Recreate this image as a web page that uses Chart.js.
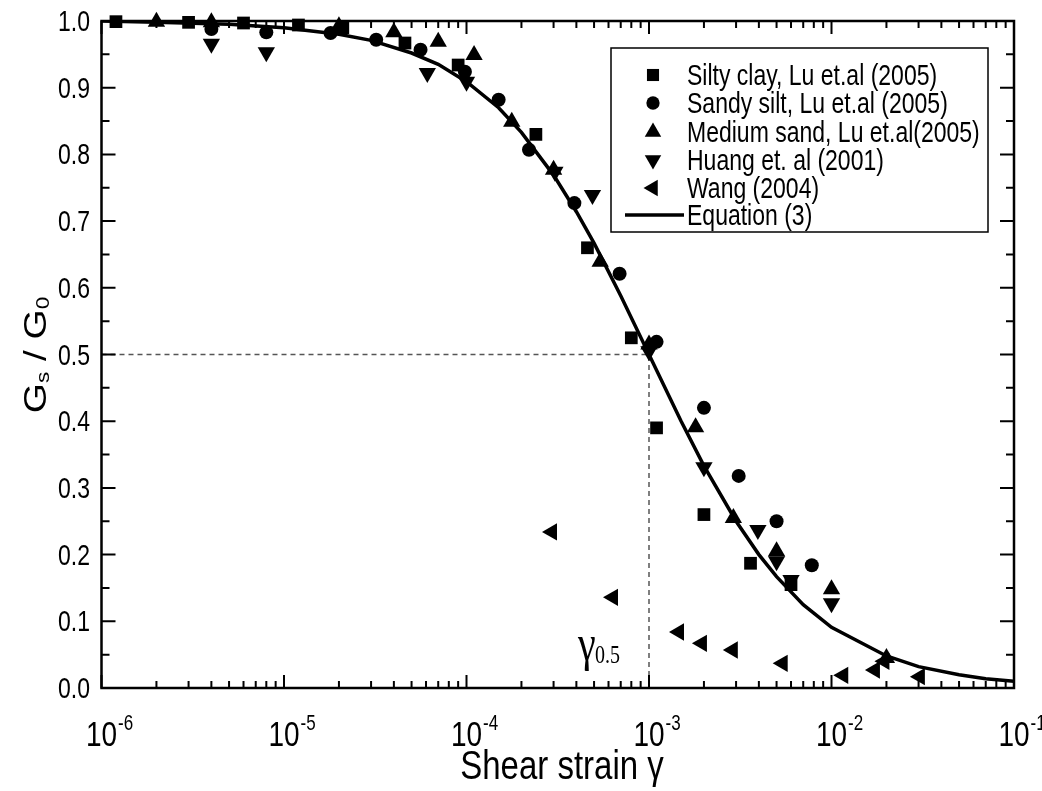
<!DOCTYPE html>
<html>
<head>
<meta charset="utf-8">
<script src="https://cdn.jsdelivr.net/npm/chart.js@4.4.1/dist/chart.umd.min.js"></script>
<style>
  body { margin: 0; background: #fff; }
  canvas { display: block; }
</style>
</head>
<body>
<canvas id="modulusChart" width="1042" height="791"></canvas>
<script>
// measured modulus ratio Gs/G0 against shear strain
const siltyClayStrain = [1.2e-6, 3e-6, 6e-6, 1.2e-5, 2.1e-5, 4.6e-5, 9e-5, 2.4e-4, 4.6e-4, 8e-4, 1.1e-3, 2e-3, 3.6e-3, 6e-3];
const siltyClayRatio  = [0.999, 0.998, 0.997, 0.994, 0.990, 0.967, 0.934, 0.830, 0.660, 0.525, 0.390, 0.260, 0.187, 0.155];

const sandySiltStrain = [4e-6, 8e-6, 1.8e-5, 3.2e-5, 5.6e-5, 9.8e-5, 1.5e-4, 2.2e-4, 3.9e-4, 6.9e-4, 1.1e-3, 2e-3, 3.1e-3, 5e-3, 7.8e-3];
const sandySiltRatio  = [0.988, 0.983, 0.982, 0.972, 0.957, 0.924, 0.882, 0.807, 0.727, 0.621, 0.519, 0.420, 0.318, 0.250, 0.184];

const mediumSandStrain = [2e-6, 4e-6, 2e-5, 4e-5, 7e-5, 1.1e-4, 1.77e-4, 3e-4, 5.4e-4, 1e-3, 1.8e-3, 2.9e-3, 5e-3, 1e-2, 2e-2];
const mediumSandRatio  = [0.999, 0.998, 0.992, 0.983, 0.969, 0.949, 0.849, 0.777, 0.639, 0.515, 0.391, 0.255, 0.205, 0.148, 0.045];

const huangStrain = [4e-6, 8e-6, 6.1e-5, 1e-4, 3.05e-4, 4.9e-4, 1e-3, 2e-3, 3.95e-3, 5e-3, 6e-3, 1e-2];
const huangRatio  = [0.966, 0.953, 0.922, 0.909, 0.774, 0.739, 0.505, 0.331, 0.237, 0.190, 0.162, 0.127];

const wangStrain = [2.94e-4, 6.35e-4, 1.46e-3, 1.95e-3, 2.88e-3, 5.4e-3, 1.16e-2, 1.73e-2, 1.95e-2, 3.05e-2];
const wangRatio  = [0.234, 0.136, 0.084, 0.067, 0.057, 0.037, 0.019, 0.027, 0.040, 0.017];

// Equation (3) curve
const eqStrain = [1e-6, 2e-6, 5e-6, 1e-5, 2e-5, 3e-5, 5e-5, 7e-5, 1e-4, 1.5e-4, 2e-4, 3e-4, 4e-4, 5e-4, 7e-4, 1e-3, 1.5e-3, 2e-3, 3e-3, 4e-3, 5e-3, 7e-3, 1e-2, 2e-2, 3e-2, 5e-2, 7e-2, 1e-1];
const eqRatio  = [1.000, 0.998, 0.995, 0.990, 0.980, 0.971, 0.952, 0.935, 0.909, 0.870, 0.833, 0.769, 0.714, 0.667, 0.588, 0.500, 0.400, 0.333, 0.250, 0.200, 0.167, 0.125, 0.091, 0.048, 0.032, 0.020, 0.014, 0.010];

// reference strain at half modulus
const gammaHalf = 1e-3;
const halfRatio = 0.5;

const xTickExponents = [-6, -5, -4, -3, -2, -1];
const yTickValues = [0, 0.1, 0.2, 0.3, 0.4, 0.5, 0.6, 0.7, 0.8, 0.9, 1.0];
const yTickLabels = ['0.0', '0.1', '0.2', '0.3', '0.4', '0.5', '0.6', '0.7', '0.8', '0.9', '1.0'];

const seriesNames = ['Silty clay, Lu et.al (2005)', 'Sandy silt, Lu et.al (2005)', 'Medium sand, Lu et.al(2005)',
                     'Huang et. al (2001)', 'Wang (2004)', 'Equation (3)'];

const SANS = "'Liberation Sans', Arial, sans-serif";
const SERIF = "'Liberation Serif', 'Times New Roman', serif";
const STRETCH = 1.25;

function pairs(xs, ys) {
  return xs.map((x, i) => ({ x: x, y: ys[i] }));
}

const markers = [
  { pointStyle: 'rect', radius: 9, rotation: 0 },
  { pointStyle: 'circle', radius: 7, rotation: 0 },
  { pointStyle: 'triangle', radius: 10, rotation: 0 },
  { pointStyle: 'triangle', radius: 10, rotation: 180 },
  { pointStyle: 'triangle', radius: 10, rotation: -90 }
];

function scatterSet(label, xs, ys, m) {
  return {
    type: 'scatter',
    label: label,
    data: pairs(xs, ys),
    pointStyle: m.pointStyle,
    pointRadius: m.radius,
    pointRotation: m.rotation,
    pointBackgroundColor: '#000',
    pointBorderWidth: 0,
    showLine: false,
    clip: false
  };
}

// text squeezed horizontally like the original export
function stretchText(ctx, str, x, y, size, align, family) {
  ctx.save();
  ctx.translate(x, y);
  ctx.scale(1, STRETCH);
  ctx.font = size + 'px ' + (family || SANS);
  ctx.textAlign = align || 'left';
  ctx.textBaseline = 'alphabetic';
  ctx.fillText(str, 0, 0);
  ctx.restore();
}

const frameAndLabels = {
  id: 'frameAndLabels',
  afterDraw(chart) {
    const ctx = chart.ctx;
    const a = chart.chartArea;
    const xs = chart.scales.x;
    const ys = chart.scales.y;
    ctx.save();
    ctx.fillStyle = '#000';
    ctx.strokeStyle = '#000';

    // inner ticks on all four sides
    ctx.lineWidth = 2;
    ctx.beginPath();
    xTickExponents.forEach((e, i) => {
      for (let m = 1; m <= 9; m++) {
        if (m > 1 && i === xTickExponents.length - 1) break;
        const px = xs.getPixelForValue(m * Math.pow(10, e));
        const len = m === 1 ? 13 : 7;
        ctx.moveTo(px, a.bottom); ctx.lineTo(px, a.bottom - len);
        ctx.moveTo(px, a.top); ctx.lineTo(px, a.top + len);
      }
    });
    for (let k = 0; k <= 20; k++) {
      const py = ys.getPixelForValue(k * 0.05);
      const len = k % 2 === 0 ? 14 : 8;
      ctx.moveTo(a.left, py); ctx.lineTo(a.left + len, py);
      ctx.moveTo(a.right, py); ctx.lineTo(a.right - len, py);
    }
    ctx.stroke();

    ctx.lineWidth = 2.5;
    ctx.strokeRect(a.left, a.top, a.right - a.left, a.bottom - a.top);

    // y tick labels
    yTickValues.forEach((v, i) => {
      const py = ys.getPixelForValue(v);
      stretchText(ctx, yTickLabels[i], 90, py + 10, 23, 'right');
    });

    // x tick labels: 10 with superscript exponent
    xTickExponents.forEach(e => {
      const px = xs.getPixelForValue(Math.pow(10, e));
      ctx.font = '28px ' + SANS;
      const w = ctx.measureText('10').width;
      stretchText(ctx, '10', px, 746, 28, 'center');
      stretchText(ctx, String(e), px + w / 2 + 1, 730, 17, 'left');
    });

    // x axis title
    stretchText(ctx, 'Shear strain \u03b3', 562, 779, 33, 'center');

    // y axis title Gs / G0, rotated
    ctx.save();
    ctx.translate(46, 355);
    ctx.rotate(-Math.PI / 2);
    ctx.scale(STRETCH, 1);
    const big = '31px ' + SANS, small = '18px ' + SANS;
    const parts = [['G', big, 0], ['s', small, 3], [' / ', big, 0], ['G', big, 0], ['0', small, 3]];
    let total = 0;
    parts.forEach(p => { ctx.font = p[1]; total += ctx.measureText(p[0]).width; });
    let cx = -total / 2;
    ctx.textBaseline = 'alphabetic';
    parts.forEach(p => {
      ctx.font = p[1];
      ctx.fillText(p[0], cx, p[2]);
      cx += ctx.measureText(p[0]).width;
    });
    ctx.restore();

    // gamma 0.5 annotation
    const gx = xs.getPixelForValue(gammaHalf);
    stretchText(ctx, '\u03b3', gx - 71, 660, 40, 'left', SERIF);
    stretchText(ctx, '0.5', gx - 54, 663, 20, 'left', SERIF);

    // legend box
    const box = { l: 611, t: 48, r: 988, b: 232 };
    ctx.lineWidth = 1.5;
    ctx.strokeRect(box.l, box.t, box.r - box.l, box.b - box.t);
    const rows = [75, 103, 132, 160, 188, 215];
    markers.forEach((m, i) => {
      Chart.helpers.drawPoint(ctx, { pointStyle: m.pointStyle, radius: m.radius * 0.95, rotation: m.rotation, borderWidth: 0 }, 653, rows[i]);
    });
    ctx.lineWidth = 3.5;
    ctx.beginPath();
    ctx.moveTo(625, rows[5]); ctx.lineTo(684, rows[5]);
    ctx.stroke();
    seriesNames.forEach((name, i) => {
      stretchText(ctx, name, 687, rows[i] + 10, 23, 'left');
    });

    ctx.restore();
  }
};

const ctx = document.getElementById('modulusChart').getContext('2d');
new Chart(ctx, {
  type: 'scatter',
  data: {
    datasets: [
      scatterSet(seriesNames[0], siltyClayStrain, siltyClayRatio, markers[0]),
      scatterSet(seriesNames[1], sandySiltStrain, sandySiltRatio, markers[1]),
      scatterSet(seriesNames[2], mediumSandStrain, mediumSandRatio, markers[2]),
      scatterSet(seriesNames[3], huangStrain, huangRatio, markers[3]),
      scatterSet(seriesNames[4], wangStrain, wangRatio, markers[4]),
      {
        type: 'line',
        label: seriesNames[5],
        data: pairs(eqStrain, eqRatio),
        borderColor: '#000',
        borderWidth: 3.5,
        pointRadius: 0,
        tension: 0,
        fill: false
      },
      {
        type: 'line',
        label: 'half modulus',
        data: [{ x: 1e-6, y: halfRatio }, { x: gammaHalf, y: halfRatio }, { x: gammaHalf, y: 0 }],
        borderColor: '#555',
        borderWidth: 1.5,
        borderDash: [5, 4],
        pointRadius: 0,
        tension: 0,
        fill: false
      }
    ]
  },
  options: {
    responsive: false,
    animation: false,
    devicePixelRatio: 1,
    layout: { padding: { top: 21, right: 28, left: 0, bottom: 0 } },
    scales: {
      x: {
        type: 'logarithmic',
        min: 1e-6,
        max: 1e-1,
        ticks: { display: false },
        grid: { display: false },
        border: { display: false },
        afterFit: s => { s.height = 103; }
      },
      y: {
        type: 'linear',
        min: 0,
        max: 1,
        ticks: { display: false },
        grid: { display: false },
        border: { display: false },
        afterFit: s => { s.width = 101.5; }
      }
    },
    plugins: {
      legend: { display: false },
      tooltip: { enabled: false }
    }
  },
  plugins: [frameAndLabels]
});
</script>
</body>
</html>
